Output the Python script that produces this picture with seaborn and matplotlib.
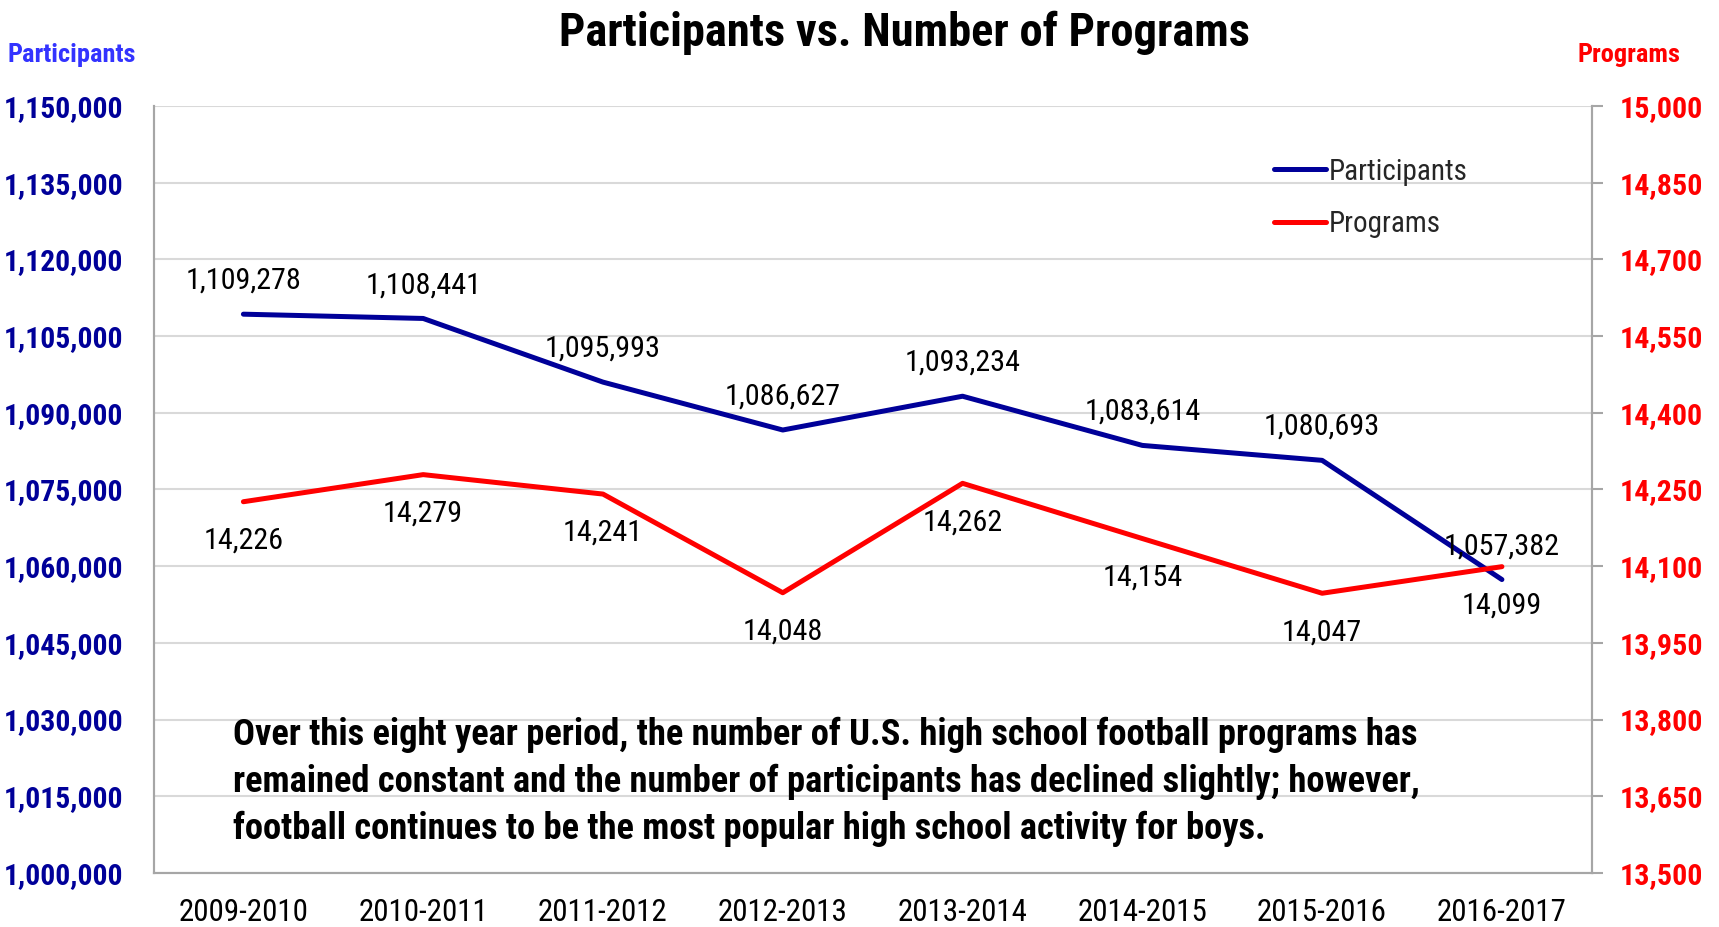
import matplotlib
matplotlib.use("Agg")
import matplotlib.pyplot as plt
import seaborn as sns
import pandas as pd
from matplotlib.ticker import FuncFormatter, FixedLocator

seasons = ["2009-2010", "2010-2011", "2011-2012", "2012-2013",
           "2013-2014", "2014-2015", "2015-2016", "2016-2017"]
participants = [1109278, 1108441, 1095993, 1086627, 1093234, 1083614, 1080693, 1057382]
programs = [14226, 14279, 14241, 14048, 14262, 14154, 14047, 14099]
left_ticks = [1000000, 1015000, 1030000, 1045000, 1060000, 1075000, 1090000,
              1105000, 1120000, 1135000, 1150000]
right_ticks = [13500, 13650, 13800, 13950, 14100, 14250, 14400, 14550, 14700, 14850, 15000]

sns.set_style("white")
FAM = ["Roboto Condensed", "DejaVu Sans"]
plt.rcParams["font.family"] = FAM

NAVY = "#000099"
RED = "#FF0000"
GRID = "#D9D9D9"
SPINE = "#A6A6A6"

df = pd.DataFrame({"x": range(len(seasons)), "season": seasons,
                   "Participants": participants, "Programs": programs})

fig = plt.figure(figsize=(17.19, 9.27), dpi=100)
ax = fig.add_axes([0.0893, 0.0583, 0.926 - 0.0893, 0.8857 - 0.0583])
ax2 = ax.twinx()

sns.lineplot(data=df, x="x", y="Participants", ax=ax, color=NAVY, linewidth=3.6,
             label="Participants", legend=False)
sns.lineplot(data=df, x="x", y="Programs", ax=ax2, color=RED, linewidth=3.6,
             label="Programs", legend=False)

ax.set_xlim(-0.5, len(seasons) - 0.5)
ax.set_ylim(left_ticks[0], left_ticks[-1])
ax2.set_ylim(right_ticks[0], right_ticks[-1])
ax.yaxis.set_major_locator(FixedLocator(left_ticks))
ax2.yaxis.set_major_locator(FixedLocator(right_ticks))
fmt = FuncFormatter(lambda v, p: f"{int(v):,}")
ax.yaxis.set_major_formatter(fmt)
ax2.yaxis.set_major_formatter(fmt)
ax.set_xticks(range(len(seasons)))
ax.set_xticklabels(seasons)
ax.set_xlabel("")
ax.set_ylabel("")
ax2.set_ylabel("")

ax.grid(axis="y", color=GRID, linewidth=1.5)
ax.set_axisbelow(True)
ax2.grid(False)

for a in (ax, ax2):
    for s in a.spines.values():
        s.set_color(SPINE)
        s.set_linewidth(1.5)
    a.spines["top"].set_visible(False)

ax.tick_params(axis="y", length=0, pad=22, labelsize=21.3, labelcolor=NAVY)
ax.tick_params(axis="x", length=0, pad=18, labelsize=22.3, labelcolor="black")
for t in ax.get_yticklabels():
    t.set_fontweight("bold")
ax2.tick_params(axis="y", length=8, width=1.5, color=SPINE, pad=12, labelsize=21.6,
                labelcolor=RED)
for t in ax2.get_yticklabels():
    t.set_fontweight("bold")

for i, v in enumerate(participants):
    ax.annotate(f"{v:,}", (i, v), xytext=(0, 24), textcoords="offset points",
                ha="center", va="center", fontsize=21.7, color="black")
for i, v in enumerate(programs):
    ax2.annotate(f"{v:,}", (i, v), xytext=(0, -28), textcoords="offset points",
                 ha="center", va="center", fontsize=21.7, color="black")

h1, l1 = ax.get_legend_handles_labels()
h2, l2 = ax2.get_legend_handles_labels()
leg = ax2.legend(h1 + h2, l1 + l2, loc="upper left", bbox_to_anchor=(1262 / 1719, 1 - 146 / 927),
                 bbox_transform=fig.transFigure, frameon=False, fontsize=21,
                 handlelength=1.8, handletextpad=0.1, labelspacing=0.85, borderaxespad=0)

fig.text(0.526, 0.965, "Participants vs. Number of Programs", ha="center", va="center",
         fontsize=33.5, fontweight="bold", color="black")
fig.text(72 / 1719, 1 - 55 / 927, "Participants", ha="center", va="center",
         fontsize=19, fontweight="bold", color="#3333FF")
fig.text(1629 / 1719, 1 - 55 / 927, "Programs", ha="center", va="center",
         fontsize=19, fontweight="bold", color=RED)

note = ("Over this eight year period, the number of U.S. high school football programs has\n"
        "remained constant and the number of participants has declined slightly; however,\n"
        "football continues to be the most popular high school activity for boys.")
fig.text(233 / 1719, 1 - 782 / 927, note, ha="left", va="center", fontsize=26.3,
         fontweight="bold", color="black", linespacing=1.38)

fig.savefig("out.png", dpi=100)
